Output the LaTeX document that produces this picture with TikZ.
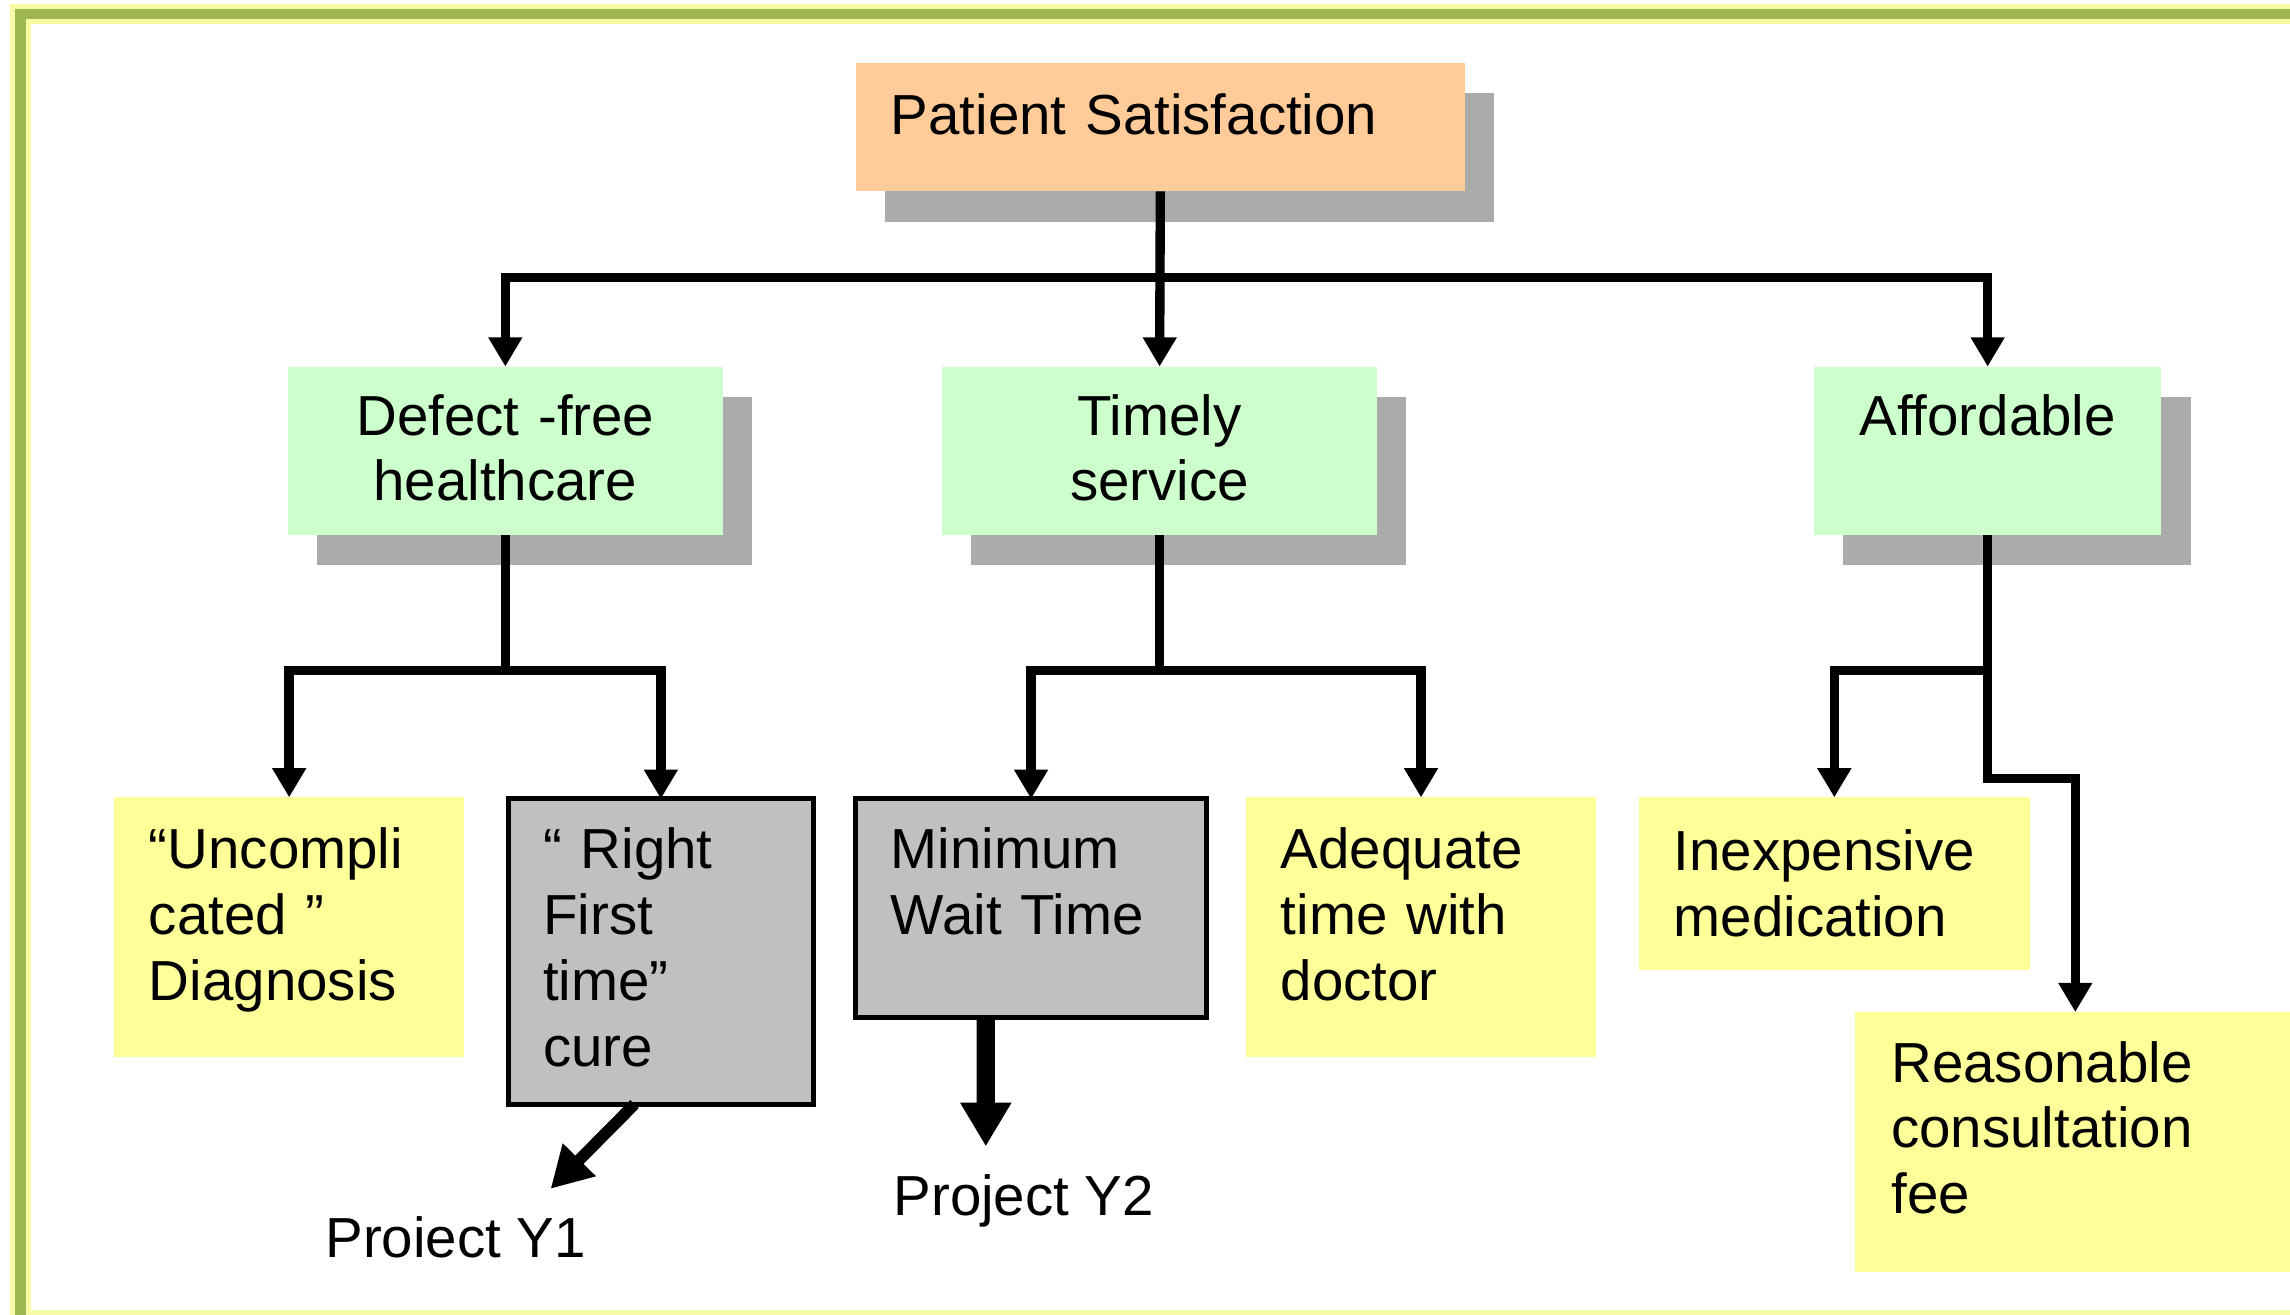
\documentclass[tikz,border=0pt]{standalone}
\usepackage{fontspec}
\setmainfont{Liberation Sans}
\usetikzlibrary{arrows.meta,shadows,calc}
\definecolor{frameg}{HTML}{9EB752}
\definecolor{frameh}{HTML}{F7FBA6}
\definecolor{peach}{HTML}{FFCC99}
\definecolor{mint}{HTML}{CCFFCC}
\definecolor{lemon}{HTML}{FFFF99}
\definecolor{boxgray}{HTML}{C0C0C0}
\definecolor{shadowgray}{HTML}{ABABAB}
\begin{document}
\begin{tikzpicture}[x=0.1mm,y=-0.1mm,
  every node/.style={font=\fontsize{11}{12.8}\selectfont},
  base/.style={anchor=north west, inner ysep=0pt, outer sep=0pt},
  lbox/.style={base, inner xsep=2.4mm, align=left},
  cbox/.style={base, inner xsep=0pt, align=center},
  shad/.style={drop shadow={shadow xshift=2mm, shadow yshift=-2.1mm, fill=shadowgray, opacity=1}},
  graybox/.style={lbox, fill=boxgray, draw=black, line width=0.34mm},
  conn/.style={line width=0.64mm, line join=miter},
  arr/.style={conn, -{Triangle[width=2.2mm,length=2.0mm]}},
  bigone/.style={line width=0.8mm, -{Triangle[width=3.0mm,length=2.8mm]}},
  bigtwo/.style={line width=1.25mm, -{Triangle[width=3.3mm,length=3.0mm]}},
]
\path[use as bounding box] (0,0) rectangle (1568,900.4);
\fill[white] (0,0) rectangle (1568,900.4);
\begin{scope}
\clip (0,0) rectangle (1568,900.4);
% frame
\draw[frameh, line width=1.4mm] (14,9.6) rectangle (1620,904);
\draw[frameg, line width=0.7mm] (14,9.6) rectangle (1620,904);

% top
\node[lbox, shad, fill=peach, text width=36.9mm, text height=4.9mm, text depth=3.9mm] (ps) at (586,43) {Patient Satisfaction};

% second level
\node[cbox, shad, fill=mint, text width=29.8mm, text height=4.7mm, text depth=6.8mm] (dh) at (197,251) {Defect -free\\healthcare};
\node[cbox, shad, fill=mint, text width=29.8mm, text height=4.7mm, text depth=6.8mm] (ts) at (645,251) {Timely\\service};
\node[cbox, shad, fill=mint, text width=23.8mm, text height=4.7mm, text depth=6.8mm] (af) at (1242,251) {Affordable};

% leaves
\node[lbox, fill=lemon, text width=19.2mm, text height=4.9mm, text depth=12.9mm] (uc) at (78,546) {“Uncompli\\cated ”\\Diagnosis};
\node[graybox, text width=16.1mm, text height=4.8mm, text depth=16.1mm] (rf) at (348,547) {“ Right\\First\\time”\\cure};
\node[graybox, text width=19.2mm, text height=4.8mm, text depth=10.2mm] (mw) at (586,547) {Minimum\\Wait Time};
\node[lbox, fill=lemon, text width=19.2mm, text height=4.9mm, text depth=12.9mm] (ad) at (853,546) {Adequate\\time with\\doctor};
\node[lbox, fill=lemon, text width=22.0mm, text height=5.0mm, text depth=6.8mm] (ie) at (1122,546) {Inexpensive\\medication};
\node[lbox, fill=lemon, inner xsep=2.5mm, text width=25.2mm, text height=4.8mm, text depth=13.0mm] (rc) at (1270,693) {Reasonable\\consultation\\fee};

% projects
\node[anchor=base, inner sep=0pt] (py1) at (312,861) {Proiect Y1};
\node[anchor=base, inner sep=0pt] (py2) at (701,832) {Project Y2};

% connectors
\path (ps.south) ++(0,59) coordinate (b0);
\draw[arr] (ps.south) -- (ts.north);
\draw[arr] (b0) -| (dh.north);
\draw[arr] (b0) -| (af.north);

\path (dh.south) ++(0,93) coordinate (b1);
\draw[conn] (dh.south) -- (b1);
\draw[arr] (b1) -| (uc.north);
\draw[arr] (b1) -| (rf.north);

\path (ts.south) ++(0,93) coordinate (b2);
\draw[conn] (ts.south) -- (b2);
\draw[arr] (b2) -| (mw.north);
\draw[arr] (b2) -| (ad.north);

\path (af.south) ++(0,93) coordinate (b3);
\draw[arr] (b3) -| (ie.north);
\draw[arr] (af.south) -- ++(0,167) -| (rc.north);

\coordinate (y1tip) at (377,814);
\coordinate (y2tip) at (675,785);
\draw[bigone] ($(rf.south)+(-18,0)$) -- (y1tip);
\draw[bigtwo] ($(mw.south)+(-31,0)$) -- (y2tip);
\end{scope}
\end{tikzpicture}
\end{document}
